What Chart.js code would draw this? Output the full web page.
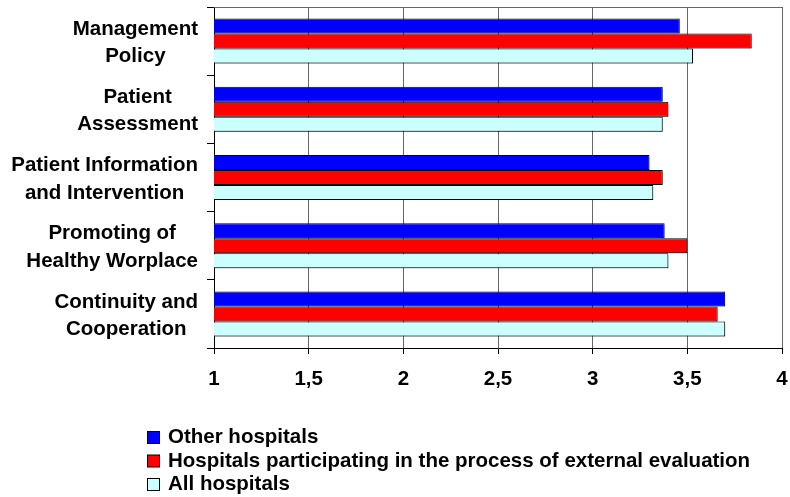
<!DOCTYPE html>
<html>
<head>
<meta charset="utf-8">
<script src="https://cdn.jsdelivr.net/npm/chart.js@4.4.1/dist/chart.umd.min.js"></script>
<style>
  html, body { margin: 0; padding: 0; background: #ffffff; }
  #wrap { width: 790px; height: 497px; position: relative; }
</style>
</head>
<body>
<div id="wrap"><canvas id="chart"></canvas></div>
<script>
// Quality-standard areas (two-line labels) and mean scores per hospital group
const categories = [
  ["Management", "Policy"],
  ["Patient", "Assessment"],
  ["Patient Information", "and Intervention"],
  ["Promoting of", "Healthy Worplace"],
  ["Continuity and", "Cooperation"]
];
const seriesNames = [
  "Other hospitals",
  "Hospitals participating in the process of external evaluation",
  "All hospitals"
];
const otherHospitals = [3.46, 3.37, 3.30, 3.38, 3.70];
const participatingHospitals = [3.84, 3.40, 3.37, 3.50, 3.66];
const allHospitals = [3.53, 3.37, 3.32, 3.40, 3.70];
const xTickValues = [1, 1.5, 2, 2.5, 3, 3.5, 4];

const FONT_FAMILY = '"Liberation Sans", Arial, Helvetica, sans-serif';
const FONT_SIZE = 20.5;
const boldFont = size => 'bold ' + size + 'px ' + FONT_FAMILY;

// Two-line category labels: each block right-aligned, its lines centred within the block
const categoryLabelPlugin = {
  id: 'categoryLabels',
  afterDraw(chart) {
    const ctx = chart.ctx;
    const yScale = chart.scales.y;
    const rightEdge = 198;
    ctx.save();
    ctx.font = boldFont(FONT_SIZE);
    ctx.fillStyle = '#000000';
    ctx.textAlign = 'center';
    ctx.textBaseline = 'alphabetic';
    categories.forEach((lines, i) => {
      const cy = yScale.getPixelForTick(i);
      const blockWidth = Math.max(...lines.map(l => ctx.measureText(l).width));
      const cx = rightEdge - blockWidth / 2;
      ctx.fillText(lines[0], cx, cy - 6.3);
      ctx.fillText(lines[1], cx, cy + 21);
    });
    ctx.restore();
  }
};

// Stacked legend below the axis: one series per row
const stackedLegendPlugin = {
  id: 'stackedLegend',
  afterDraw(chart) {
    const ctx = chart.ctx;
    const left = 147.5, size = 12, textX = 168;
    const firstBaseline = 443, rowStep = 23.5;
    ctx.save();
    ctx.font = boldFont(FONT_SIZE);
    ctx.textAlign = 'left';
    ctx.textBaseline = 'alphabetic';
    chart.data.datasets.forEach((ds, i) => {
      const base = firstBaseline + i * rowStep;
      const top = base - 11.5;
      ctx.fillStyle = ds.backgroundColor;
      ctx.fillRect(left, top, size, size);
      ctx.strokeStyle = '#000000';
      ctx.lineWidth = 1;
      ctx.strokeRect(left, top, size, size);
      ctx.fillStyle = '#000000';
      ctx.fillText(ds.label, textX, base);
    });
    ctx.restore();
  }
};

// Grey frame line along the top of the plot area
const plotFramePlugin = {
  id: 'plotFrame',
  beforeDatasetsDraw(chart) {
    const {ctx, chartArea} = chart;
    ctx.save();
    ctx.strokeStyle = '#666666';
    ctx.lineWidth = 1;
    ctx.beginPath();
    ctx.moveTo(chartArea.left, Math.round(chartArea.top) + 0.5);
    ctx.lineTo(chartArea.right, Math.round(chartArea.top) + 0.5);
    ctx.stroke();
    ctx.restore();
  }
};

// Soft drop shadow behind the bars
const barShadowPlugin = {
  id: 'barShadow',
  beforeDatasetsDraw(chart) {
    const ctx = chart.ctx;
    ctx.save();
    ctx.shadowColor = 'rgba(0,0,0,0.28)';
    ctx.shadowOffsetX = 2;
    ctx.shadowOffsetY = 2;
    ctx.shadowBlur = 0;
  },
  afterDatasetsDraw(chart) {
    chart.ctx.restore();
  }
};

const commonBar = {
  borderColor: '#000000',
  borderWidth: 1,
  borderSkipped: 'start',
  categoryPercentage: 0.66,
  barPercentage: 1.0
};

new Chart(document.getElementById('chart'), {
  type: 'bar',
  data: {
    labels: categories.map(l => l.join(' ')),
    datasets: [
      Object.assign({ label: seriesNames[0], data: otherHospitals, backgroundColor: '#0000ff' }, commonBar),
      Object.assign({ label: seriesNames[1], data: participatingHospitals, backgroundColor: '#ff0000' }, commonBar),
      Object.assign({ label: seriesNames[2], data: allHospitals, backgroundColor: '#ccffff' }, commonBar)
    ]
  },
  options: {
    indexAxis: 'y',
    responsive: true,
    maintainAspectRatio: false,
    animation: false,
    layout: { padding: { top: 7, right: 8, bottom: 109, left: 0 } },
    plugins: {
      legend: { display: false },
      tooltip: { enabled: false }
    },
    scales: {
      x: {
        type: 'linear',
        min: 1,
        max: 4,
        afterBuildTicks: scale => { scale.ticks = xTickValues.map(v => ({ value: v })); },
        afterFit: scale => {
          scale.height = 40;
          scale.paddingLeft = 0;
          scale.paddingRight = 0;
        },
        grid: {
          color: '#666666',
          lineWidth: 1,
          tickColor: '#000000',
          tickLength: 6,
          drawTicks: true
        },
        border: { display: true, color: '#000000', width: 1 },
        ticks: {
          padding: 13,
          color: '#000000',
          maxRotation: 0,
          font: { family: FONT_FAMILY, size: FONT_SIZE, weight: 'bold' },
          callback: v => String(v).replace('.', ',')
        }
      },
      y: {
        type: 'category',
        afterFit: scale => { scale.width = 214; },
        grid: {
          offset: true,
          drawOnChartArea: false,
          drawTicks: true,
          tickLength: 7,
          color: '#000000',
          tickColor: '#000000'
        },
        border: { display: true, color: '#000000', width: 1 },
        ticks: { display: false }
      }
    }
  },
  plugins: [plotFramePlugin, barShadowPlugin, categoryLabelPlugin, stackedLegendPlugin]
});
</script>
</body>
</html>
